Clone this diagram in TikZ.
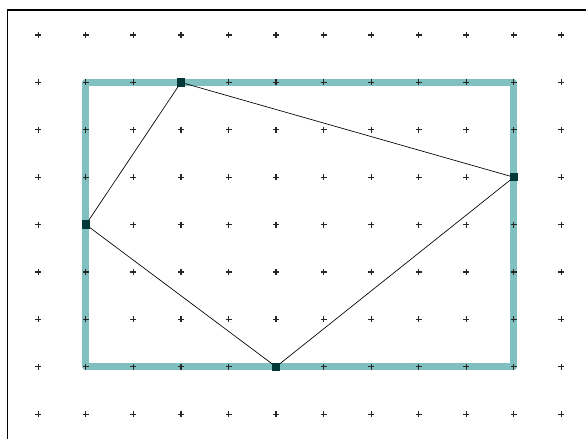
\documentclass[tikz,border=0pt]{standalone}
\begin{document}
\begin{tikzpicture}[x=0.75pt,y=-0.75pt,
  framestyle/.style={line width=0.9pt,draw=black},
  boxstyle/.style={line width=5.2pt,draw={rgb,255:red,128;green,192;blue,192},line join=round},
  edgestyle/.style={line width=0.5pt,draw=black},
  markerstyle/.style={rectangle,fill={rgb,255:red,0;green,56;blue,56},minimum size=6.3pt,inner sep=0pt},
  plusstyle/.style={line width=0.9pt,draw=black!85}]
\useasboundingbox (0,0) rectangle (586,439);
\begin{scope}
\clip (0,0) rectangle (586,439);
\draw[framestyle] (7.3,10) rectangle (620,470);
\end{scope}
\def\gx#1{38.3+47.55*#1}
\def\gy#1{35+47.4*#1}
\draw[boxstyle] ({\gx{1}},{\gy{1}}) rectangle ({\gx{10}},{\gy{7}});
\foreach \i in {0,...,11}{
  \foreach \j in {0,...,8}{
    \draw[plusstyle] ({\gx{\i}-3},{\gy{\j}}) -- ({\gx{\i}+3},{\gy{\j}})
                     ({\gx{\i}},{\gy{\j}-3}) -- ({\gx{\i}},{\gy{\j}+3});
  }
}
\node[markerstyle] (a) at ({\gx{3}},{\gy{1}}) {};
\node[markerstyle] (b) at ({\gx{10}},{\gy{3}}) {};
\node[markerstyle] (c) at ({\gx{5}},{\gy{7}}) {};
\node[markerstyle] (d) at ({\gx{1}},{\gy{4}}) {};
\draw[edgestyle] (a.center) -- (b.center) -- (c.center) -- (d.center) -- (a.center);
\foreach \n in {a,b,c,d}{\node[markerstyle] at (\n) {};}
\end{tikzpicture}
\end{document}
